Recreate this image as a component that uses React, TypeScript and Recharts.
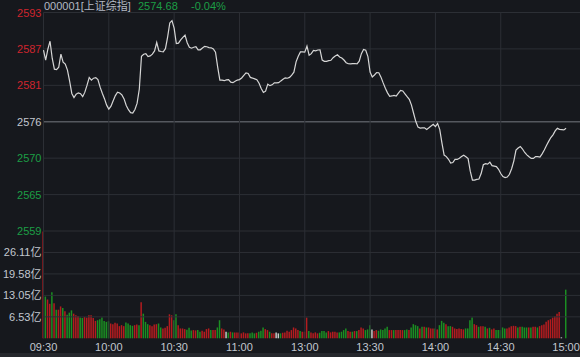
import { LineChart, Line, BarChart, Bar, Cell, XAxis, YAxis, ReferenceLine } from 'recharts';

// ─── Intraday data (one point per trading minute, 09:30 … 11:30, 13:01 … 15:00) ───

const prices = [
  2586.77, 2585.22, 2586.92, 2588.16, 2585.53, 2583.83, 2583.76, 2584.14, 2586.15, 2584.91,
  2584.61, 2583.68, 2581.98, 2580.08, 2579.43, 2579.97, 2580.17, 2580.04, 2579.58, 2580.28,
  2581.36, 2582.55, 2582.13, 2582.44, 2582.52, 2582.21, 2581.05, 2580.12, 2579.27, 2578.27,
  2577.65, 2578.11, 2578.96, 2579.74, 2580.28, 2580.15, 2579.86, 2579.24, 2578.22, 2577.57,
  2577.11, 2577.03, 2577.6, 2578.58, 2580.74, 2585.84, 2586.15, 2586.23, 2585.78, 2585.89,
  2586.15, 2586.66, 2587.96, 2586.66, 2586.57, 2586.51, 2587.0, 2588.78, 2590.99, 2591.35,
  2590.17, 2587.81, 2587.85, 2588.35, 2588.75, 2589.09, 2587.93, 2587.23, 2587.08, 2587.23,
  2587.31, 2586.82, 2586.83, 2587.11, 2587.36, 2587.3, 2587.17, 2587.14, 2586.96, 2586.46,
  2584.14, 2582.13, 2582.13, 2582.05, 2582.18, 2582.21, 2581.82, 2581.75, 2581.98, 2582.15,
  2582.22, 2582.47, 2582.87, 2583.26, 2583.17, 2582.56, 2582.46, 2582.33, 2582.19, 2581.67,
  2580.85, 2580.23, 2580.43, 2581.51, 2581.28, 2581.41, 2581.71, 2581.71, 2581.75, 2582.02,
  2582.27, 2582.49, 2582.43, 2582.56, 2582.9, 2583.37, 2584.96, 2585.84, 2586.51, 2586.51,
  2586.46, 2587.39, 2586.0, 2586.23, 2586.74, 2586.68, 2586.8, 2586.83, 2585.25, 2585.04,
  2585.04, 2585.15, 2585.21, 2585.61, 2585.87, 2586.07, 2585.72, 2585.56, 2585.25, 2584.84,
  2584.67, 2584.64, 2584.7, 2584.71, 2584.67, 2585.07, 2586.24, 2586.88, 2586.77, 2585.77,
  2583.4, 2582.64, 2582.94, 2583.29, 2583.28, 2582.6, 2581.71, 2580.9, 2580.17, 2579.63,
  2579.69, 2579.78, 2579.67, 2580.12, 2580.54, 2580.46, 2580.01, 2579.57, 2579.16, 2578.27,
  2576.98, 2575.73, 2574.87, 2574.71, 2574.74, 2574.77, 2574.51, 2574.77, 2575.05, 2575.3,
  2574.94, 2575.41, 2574.48, 2572.39, 2570.54, 2570.31, 2569.89, 2569.3, 2569.39, 2569.87,
  2569.87, 2570.06, 2570.31, 2570.52, 2570.29, 2570.0, 2568.06, 2566.67, 2566.67, 2566.78,
  2566.84, 2567.68, 2569.05, 2569.22, 2569.15, 2569.45, 2568.91, 2568.84, 2568.76, 2568.34,
  2567.69, 2567.23, 2567.06, 2567.14, 2567.57, 2568.43, 2569.61, 2571.31, 2571.63, 2571.88,
  2571.48, 2570.95, 2570.58, 2570.29, 2570.03, 2570.03, 2570.32, 2570.31, 2570.23, 2570.74,
  2571.33, 2572.02, 2572.66, 2573.26, 2573.68, 2574.29, 2574.68, 2574.53, 2574.48, 2574.43,
  2574.68,
];

// volume per minute, in 亿
const volumes = [
  32.5, 12.7, 11.8, 10.5, 14.0, 10.7, 8.7, 8.7, 9.7, 9.2,
  8.2, 7.2, 7.8, 8.5, 7.5, 7.0, 6.8, 6.3, 6.2, 6.5,
  6.3, 7.0, 7.0, 6.2, 5.3, 5.5, 5.8, 6.3, 5.3, 5.0,
  5.2, 4.5, 4.3, 4.7, 4.5, 3.7, 4.0, 3.7, 4.8, 4.5,
  4.0, 3.8, 4.0, 4.2, 4.0, 11.0, 7.5, 5.0, 4.3, 4.0,
  3.7, 4.2, 4.3, 4.5, 3.3, 3.0, 3.2, 3.7, 7.3, 7.0,
  5.5, 7.3, 4.0, 3.0, 3.0, 2.8, 2.6, 3.2, 2.4, 2.5,
  2.4, 2.5, 2.0, 2.3, 2.0, 2.8, 3.0, 2.5, 2.5, 2.5,
  3.3, 5.5, 3.0, 2.7, 2.0, 1.8, 2.0, 1.8, 1.8, 1.8,
  1.8, 1.5, 1.8, 1.5, 1.5, 1.5, 1.8, 1.5, 1.7, 2.0,
  2.3, 3.3, 2.8, 2.5, 2.0, 1.5, 1.5, 1.8, 1.5, 1.5,
  1.7, 1.8, 2.3, 2.0, 2.5, 3.3, 3.0, 2.5, 2.2, 2.0,
  2.0, 6.3, 2.2, 1.8, 1.5, 1.8, 1.5, 1.7, 2.2, 2.2,
  1.8, 2.2, 1.8, 2.0, 2.0, 1.8, 1.8, 2.0, 2.5, 3.0,
  2.2, 2.0, 2.0, 2.2, 2.2, 2.5, 3.3, 3.0, 2.5, 2.7,
  4.0, 2.7, 2.2, 2.5, 2.3, 2.7, 2.5, 3.0, 3.5, 2.5,
  2.5, 2.5, 2.5, 2.5, 2.5, 2.5, 2.5, 2.7, 2.5, 3.3,
  4.3, 4.0, 3.7, 3.0, 3.5, 3.5, 3.3, 3.3, 3.0, 3.0,
  3.0, 2.7, 4.0, 5.3, 4.7, 4.3, 3.7, 3.7, 3.5, 3.0,
  2.8, 3.0, 2.8, 2.7, 3.0, 3.0, 5.5, 6.3, 4.3, 4.0,
  3.5, 3.7, 3.7, 3.5, 3.0, 3.2, 2.7, 3.0, 2.5, 2.5,
  2.5, 3.3, 3.0, 3.0, 3.3, 3.7, 3.8, 3.7, 3.3, 3.5,
  3.5, 3.3, 3.3, 3.3, 3.3, 3.5, 3.5, 3.3, 3.7, 4.0,
  4.2, 5.0, 5.5, 5.8, 6.3, 6.7, 7.5, 8.0, 0.3, 0,
  14.8,
];

// R = up minute, G = down minute, N = unchanged
const volDir = (
  'RGRRGRGRRG' + 'RGGGRRRGGR' + 'RRRRRGGGGG' + 'GRRRRRRRGG' + 'GGRRGRGGGR' +
  'RRRGGRRRRR' + 'GGRRRRGGGR' + 'RGGRRRRGRR' + 'GGRRNGRGRR' + 'RRRRRGGGRG' +
  'GGRRGRRNNG' + 'RRRRRRRRGR' + 'RRGRRRRGGG' + 'GRRRRRGGGG' + 'RRGRGRRRGG' +
  'GNRRGGGGGR' + 'RGRRRRGGRG' + 'GGGRGRGRRR' + 'GRGGGRGGRR' + 'RRRRGGGGRR' +
  'GRRGRGRRGG' + 'GGGRRRRRGR' + 'GGGRGRRGRR' + 'RRRRRRRRNN' + 'G'
).split('');

const timeTicks = [0, 30, 60, 90, 120, 150, 180, 210, 240];
const timeLabels = ['09:30', '10:00', '10:30', '11:00', '13:00', '13:30', '14:00', '14:30', '15:00'];

const prevClose = 2575.7;
const priceTicks = [2592.6, 2586.97, 2581.33, 2575.7, 2570.07, 2564.43, 2558.8];
const priceTickLabels = ['2593', '2587', '2581', '2576', '2570', '2565', '2559'];

const volMax = 32.64;
const volTicks = [6.53, 13.05, 19.58, 26.11];
const volTickLabels = ['6.53亿', '13.05亿', '19.58亿', '26.11亿'];

const header = { name: '000001[上证综指]', last: '2574.68', change: '-0.04%' };

// ─── Look ─────────────────────────────────────────────────────────────────────

const BG = '#16181d';
const GRID = '#2c2f35';
const PREV_LINE = '#55585f';
const RED = '#cf252d';
const GREEN = '#1c9e45';
const GRAY = '#c2c7cf';
const BAR_RED = '#b41c1f';
const BAR_GREEN = '#1b8f22';
const BAR_FLAT = '#c8c8c8';
const FONT = "'Liberation Sans', 'Noto Sans CJK SC', sans-serif";

const W = 580;
const AXIS_W = 43.5;
const X_MAX = 246.4; // plot extends past 15:00 to the right edge

const rows = prices.map((price, i) => ({ i, price, vol: volumes[i], dir: volDir[i] }));

const priceColor = (v: number) =>
  v > prevClose + 0.01 ? RED : v < prevClose - 0.01 ? GREEN : GRAY;

const PriceTick = (props: any) => {
  const { x, y, payload } = props;
  const idx = priceTicks.indexOf(payload.value);
  return (
    <text x={x} y={y} dy={4} textAnchor="end" fill={priceColor(payload.value)} fontSize={11} fontFamily={FONT}>
      {priceTickLabels[idx]}
    </text>
  );
};

const VolTick = (props: any) => {
  const { x, y, payload } = props;
  const idx = volTicks.indexOf(payload.value);
  return (
    <text x={x} y={y} dy={4} textAnchor="end" fill={GRAY} fontSize={11} fontFamily={FONT}>
      {volTickLabels[idx]}
    </text>
  );
};

const barFill = (d: string) => (d === 'R' ? BAR_RED : d === 'G' ? BAR_GREEN : BAR_FLAT);

export default function App() {
  const gridTimes = timeTicks.slice(0, -1);
  return (
    <div style={{ position: 'absolute', left: 0, top: 0, width: W, height: 357, background: BG, overflow: 'hidden', fontFamily: FONT }}>
      {/* header line */}
      <div style={{ position: 'absolute', top: 0, left: 0, width: W, height: 12, fontSize: 11, lineHeight: '12px' }}>
        <span style={{ position: 'absolute', left: 44, color: '#b3b9c3' }}>{header.name}</span>
        <span style={{ position: 'absolute', left: 138, color: GREEN }}>{header.last}</span>
        <span style={{ position: 'absolute', left: 191, color: GREEN }}>{header.change}</span>
      </div>

      {/* volume panel */}
      <div style={{ position: 'absolute', top: 220, left: 0 }}>
        <BarChart width={W} height={137} data={rows} margin={{ top: 11, right: 0, bottom: 0, left: 0 }} barCategoryGap={0}>
          <XAxis
            dataKey="i"
            type="number"
            domain={[0, X_MAX]}
            ticks={timeTicks}
            interval={0}
            tickFormatter={(v: number) => timeLabels[timeTicks.indexOf(v)]}
            axisLine={false}
            tickLine={false}
            tickSize={0}
            tickMargin={5}
            height={18.7}
            tick={{ fill: GRAY, fontSize: 11, fontFamily: FONT }}
          />
          <YAxis
            type="number"
            domain={[0, volMax]}
            ticks={volTicks}
            interval={0}
            width={AXIS_W}
            axisLine={false}
            tickLine={false}
            tickSize={0}
            tickMargin={2}
            tick={<VolTick />}
          />
          {volTicks.map((v) => (
            <ReferenceLine key={`vh-${v}`} y={v} stroke={GRID} strokeWidth={1} />
          ))}
          {gridTimes.map((t) => (
            <ReferenceLine key={`vv-${t}`} x={t} stroke={GRID} strokeWidth={1} />
          ))}
          <Bar dataKey="vol" barSize={1.5} isAnimationActive={false}>
            {rows.map((r) => (
              <Cell key={`b-${r.i}`} fill={barFill(r.dir)} />
            ))}
          </Bar>
        </BarChart>
      </div>

      {/* price panel */}
      <div style={{ position: 'absolute', top: 0, left: 0 }}>
        <LineChart width={W} height={240} data={rows} margin={{ top: 12.5, right: 0, bottom: 9, left: 0 }}>
          <XAxis dataKey="i" type="number" domain={[0, X_MAX]} hide />
          <YAxis
            type="number"
            domain={[priceTicks[priceTicks.length - 1], priceTicks[0]]}
            ticks={priceTicks}
            interval={0}
            width={AXIS_W}
            axisLine={false}
            tickLine={false}
            tickSize={0}
            tickMargin={2}
            tick={<PriceTick />}
          />
          {priceTicks.map((v) => (
            <ReferenceLine
              key={`ph-${v}`}
              y={v}
              stroke={v === prevClose ? PREV_LINE : GRID}
              strokeWidth={v === prevClose ? 1.5 : 1}
            />
          ))}
          {gridTimes.map((t) => (
            <ReferenceLine key={`pv-${t}`} x={t} stroke={GRID} strokeWidth={1} />
          ))}
          <Line
            type="linear"
            dataKey="price"
            stroke="#d6d6d6"
            strokeWidth={1.2}
            dot={false}
            isAnimationActive={false}
          />
        </LineChart>
      </div>

      {/* bottom strip */}
      <div style={{ position: 'absolute', left: 0, top: 353, width: W, height: 4, background: '#25272c' }} />
    </div>
  );
}
